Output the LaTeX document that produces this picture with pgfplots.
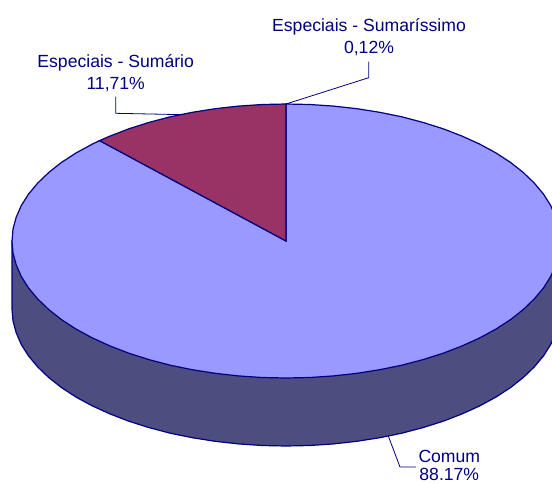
\documentclass[border=0pt]{standalone}
\usepackage{fontspec}
\setmainfont{Liberation Sans}
\usepackage{pgfplots}
\pgfplotsset{compat=1.18}
\definecolor{topblue}{HTML}{9999FF}
\definecolor{sideblue}{HTML}{4D4D80}
\definecolor{slicered}{HTML}{993366}
\definecolor{edge}{HTML}{000080}
\newcommand{\lbl}[3]{\node[anchor=base,inner sep=0pt,text=edge,font=\fontsize{17.6}{20}\selectfont] at (axis cs:#1,#2) {#3};}
\begin{document}
\begin{tikzpicture}
\path[use as bounding box] (0,0) rectangle (552pt,483pt);
\begin{axis}[
  at={(0,0)}, anchor=south west,
  scale only axis, width=552pt, height=483pt,
  xmin=0, xmax=552, ymin=0, ymax=483, y dir=reverse,
  hide axis, clip=true,
]
% side of the pie (lower rim), top is painted over it
\addplot[draw=edge, line width=1.2pt, fill=sideblue] coordinates {
 (560,241) (560,309) (559.0,320.9) (555.8,332.8) (550.7,344.5) (543.5,355.9) (534.3,366.9)
 (523.3,377.5) (510.5,387.6) (495.9,397.1) (479.7,405.9) (462.1,413.9) (443.2,421.2)
 (423.0,427.6) (401.8,433.2) (379.7,437.7) (356.9,441.3) (333.6,443.9) (309.9,445.5)
 (286,446) (262.1,445.5) (238.4,443.9) (215.1,441.3) (192.3,437.7) (170.2,433.2)
 (149.0,427.6) (128.8,421.2) (109.9,413.9) (92.3,405.9) (76.1,397.1) (61.5,387.6)
 (48.7,377.5) (37.7,366.9) (28.5,355.9) (21.3,344.5) (16.2,332.8) (13.0,320.9) (12,309)
 (12,241)
} -- cycle;
% Comum 88.17
\addplot[draw=edge, line width=1.2pt, fill=topblue] coordinates {
 (286,241) (286,104) (309.9,104.5) (333.6,106.1) (356.9,108.7) (379.7,112.3) (401.8,116.8)
 (423.0,122.4) (443.2,128.8) (462.1,136.1) (479.7,144.1) (495.9,152.9) (510.5,162.4)
 (523.3,172.5) (534.3,183.1) (543.5,194.1) (550.7,205.5) (555.8,217.2) (559.0,229.1)
 (560,241) (559.0,252.9) (555.8,264.8) (550.7,276.5) (543.5,287.9) (534.3,298.9)
 (523.3,309.5) (510.5,319.6) (495.9,329.1) (479.7,337.9) (462.1,345.9) (443.2,353.2)
 (423.0,359.6) (401.8,365.2) (379.7,369.7) (356.9,373.3) (333.6,375.9) (309.9,377.5)
 (286,378) (262.1,377.5) (238.4,375.9) (215.1,373.3) (192.3,369.7) (170.2,365.2)
 (149.0,359.6) (128.8,353.2) (109.9,345.9) (92.3,337.9) (76.1,329.1) (61.5,319.6)
 (48.7,309.5) (37.7,298.9) (28.5,287.9) (21.3,276.5) (16.2,264.8) (13.0,252.9)
 (12,241) (13.0,229.1) (16.2,217.2) (21.3,205.5) (28.5,194.1) (37.7,183.1) (48.7,172.5)
 (61.5,162.4) (76.1,152.9) (92.3,144.1) (99.6,140.6)
} -- cycle;
% Especiais - Sumario 11.71
\addplot[draw=edge, line width=1.2pt, fill=slicered] coordinates {
 (286,241) (99.6,140.6) (109.9,136.1) (128.8,128.8) (149.0,122.4) (170.2,116.8)
 (192.3,112.3) (215.1,108.7) (238.4,106.1) (262.1,104.5) (286,104)
} -- cycle;
% leader lines
\addplot[draw=edge, line width=0.8pt] coordinates {(286,104) (368.7,77.7) (368.7,61.5)};
\addplot[draw=edge, line width=0.8pt] coordinates {(115.7,96.5) (115.7,113.3) (180,114.6)};
\addplot[draw=edge, line width=0.8pt] coordinates {(388.3,436) (400,467) (416,467)};
\lbl{369}{31.7}{Especiais - Sumaríssimo}
\lbl{369}{53.3}{0,12\%}
\lbl{115.7}{67.3}{Especiais - Sumário}
\lbl{115.7}{89}{11,71\%}
\lbl{449.3}{462}{Comum}
\lbl{449.3}{480}{88.17\%}
\end{axis}
\end{tikzpicture}
\end{document}
